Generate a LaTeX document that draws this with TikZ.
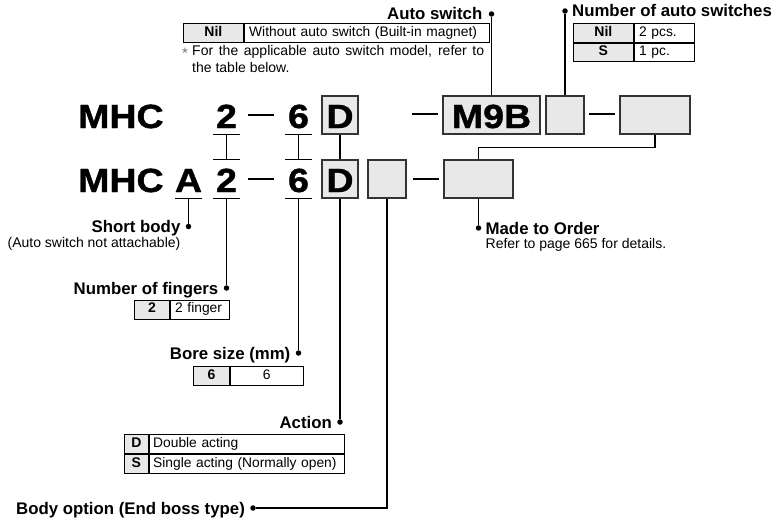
\documentclass[tikz,border=0pt]{standalone}
\usepackage{fontspec}
\setmainfont{Liberation Sans}
\newfontfamily\bigfont[FakeStretch=1.12,FakeBold=1.2]{Liberation Sans}
\usepackage{tikz}
\usetikzlibrary{positioning,calc}

\begin{document}
\begin{tikzpicture}[
        x=1pt, y=-1pt,
        bigsty/.style={
            font=\bigfont\bfseries\fontsize{33.5}{33}\selectfont,
            inner sep=0pt, text height=32pt, text depth=6pt,
            anchor=base,
        },
        digsty/.style={bigsty, minimum width=27pt},
        boxsty/.style={
            bigsty, draw=black!80, fill=black!9,
            line width=1.3pt,
        },
        dashsty/.style={fill=black, inner sep=0pt, minimum width=26pt, minimum height=2.2pt},
        linesty/.style={line width=1.2pt},
        dotsty/.style={circle, fill=black, inner sep=0pt, minimum size=5.5pt},
        lblsty/.style={
            font=\bfseries\fontsize{16.8}{18}\selectfont,
            inner sep=0pt, text height=12pt, text depth=0pt,
        },
        txtsty/.style={font=\fontsize{14}{17}\selectfont, inner sep=0pt, align=left},
        keysty/.style={
            draw, line width=0.8pt, fill=black!9,
            font=\bfseries\fontsize{14}{15}\selectfont,
            inner sep=0pt, text height=10pt, text depth=3pt,
            minimum height=19pt,
        },
        valsty/.style={
            draw, line width=0.8pt,
            font=\fontsize{13.8}{15}\selectfont,
            inner ysep=0pt, inner xsep=5pt, text height=10pt, text depth=3pt,
            minimum height=19pt, align=left,
        },
    ]
    \useasboundingbox (0,0) rectangle (778,519);

    % first row
    \node[bigsty, anchor=base west] (m1) at (78,128) {MHC};
    \node[digsty] (f1) at (226.5,128) {2};
    \node[dashsty] (d1) at (260.5,115) {};
    \node[digsty] (b1) at (298.5,128) {6};
    \node[boxsty, minimum width=36pt] (a1) at (340,128) {D};
    \node[dashsty] (d2) at (425,114) {};
    \node[boxsty, minimum width=97pt] (sw) at (491.5,128) {M9B};
    \node[boxsty, minimum width=38pt] (n1) at (565,128) {};
    \node[dashsty] (d3) at (602,114) {};
    \node[boxsty, minimum width=70pt] (o1) at (655,128) {};

    % second row
    \node[bigsty, anchor=base west] (m2) at (78,192) {MHC};
    \node[digsty] (sb) at (188.5,192) {A};
    \node[digsty] (f2) at (226.5,192) {2};
    \node[dashsty] (d4) at (260.5,179) {};
    \node[digsty] (b2) at (298.5,192) {6};
    \node[boxsty, minimum width=36pt] (a2) at (340,192) {D};
    \node[boxsty, minimum width=38pt] (e2) at (387,192) {};
    \node[dashsty] (d5) at (425.5,179) {};
    \node[boxsty, minimum width=69pt] (o2) at (478.5,192) {};

    \foreach \n in {f1,b1,f2,b2,sb}
        \draw[linesty] (\n.south west) -- (\n.south east);
    \foreach \n in {f2,b2}
        \draw[linesty] (\n.north west) -- (\n.north east);

    \draw[linesty] (f1.south) -- (f2.north);
    \draw[linesty] (b1.south) -- (b2.north);
    \draw[linesty] (a1.south) -- (a2.north);
    \draw[linesty] (o1.south) -- ++(0,12.5) -| (o2.north);

    % auto switch
    \node[dotsty] (swdot) at (491.5,14) {};
    \node[lblsty, left=6pt of swdot] (swlbl) {Auto switch};
    \draw[linesty] (swdot) -- (sw.north);
    \node[keysty, minimum width=60pt, anchor=north west] (swk) at (183,23.5) {Nil};
    \node[valsty, text width=235pt, right=0pt of swk] (swv) {Without auto switch (Built-in magnet)};
    \node[txtsty, anchor=north west] (swnote) at (182,45)
        {\makebox[10pt][l]{\raisebox{-3pt}{\fontsize{15}{15}\selectfont\color{black!55}*}}\makebox[292pt][s]{For the applicable auto switch model, refer to}\\
         \hspace*{10pt}the table below.};

    % number of auto switches
    \node[dotsty] (nsdot) at (565,11) {};
    \node[lblsty, right=4pt of nsdot] (nslbl) {Number of auto switches};
    \draw[linesty] (nsdot) -- (n1.north);
    \node[keysty, minimum width=60pt, minimum height=18.5pt, anchor=north west] (nsk1) at (573,23.5) {Nil};
    \node[valsty, minimum height=18.5pt, text width=50pt, right=0pt of nsk1] (nsv1) {2 pcs.};
    \node[keysty, minimum width=60pt, minimum height=18.5pt, below=0pt of nsk1] (nsk2) {S};
    \node[valsty, minimum height=18.5pt, text width=50pt, right=0pt of nsk2] (nsv2) {1 pc.};

    % short body
    \node[dotsty] (sbdot) at (188.5,226.5) {};
    \node[lblsty, left=5pt of sbdot] (sblbl) {Short body};
    \node[txtsty, anchor=north east] (sbnote) at ($(sblbl.south east)+(0,4)$) {(Auto switch not attachable)};
    \draw[linesty] (sb.south) -- (sbdot);

    % number of fingers
    \node[dotsty] (fgdot) at (226.5,288) {};
    \node[lblsty, left=5pt of fgdot] (fglbl) {Number of fingers};
    \draw[linesty] (f2.south) -- (fgdot);
    \node[keysty, minimum width=35pt, anchor=north west] (fgk) at (134,299.5) {2};
    \node[valsty, text width=49pt, right=0pt of fgk] (fgv) {2 finger};

    % bore size
    \node[dotsty] (bsdot) at (298.5,353) {};
    \node[lblsty, left=5pt of bsdot] (bslbl) {Bore size (mm)};
    \draw[linesty] (b2.south) -- (bsdot);
    \node[keysty, minimum width=36pt, anchor=north west] (bsk) at (193,366) {6};
    \node[valsty, minimum width=73pt, inner xsep=0pt, align=center, right=0pt of bsk] (bsv) {6};

    % action
    \node[dotsty] (acdot) at (340,422) {};
    \node[lblsty, left=5pt of acdot] (aclbl) {Action};
    \draw[linesty] (a2.south) -- (acdot);
    \node[keysty, minimum width=24pt, anchor=north west] (ack1) at (124,434) {D};
    \node[valsty, inner xsep=4pt, text width=187pt, right=0pt of ack1] (acv1) {Double acting};
    \node[keysty, minimum width=24pt, below=0pt of ack1] (ack2) {S};
    \node[valsty, inner xsep=4pt, text width=187pt, right=0pt of ack2] (acv2) {Single acting (Normally open)};

    % body option
    \node[dotsty] (bodot) at (253,508) {};
    \node[lblsty, left=5pt of bodot] (bolbl) {Body option (End boss type)};
    \draw[linesty] (e2.south) |- (bodot);

    % made to order
    \node[dotsty] (modot) at (478.5,228) {};
    \node[lblsty, right=4pt of modot] (molbl) {Made to Order};
    \node[txtsty, anchor=north west] (monote) at ($(molbl.south west)+(0,4)$) {Refer to page 665 for details.};
    \draw[linesty] (o2.south) -- (modot);

    \end{tikzpicture}
\end{document}
